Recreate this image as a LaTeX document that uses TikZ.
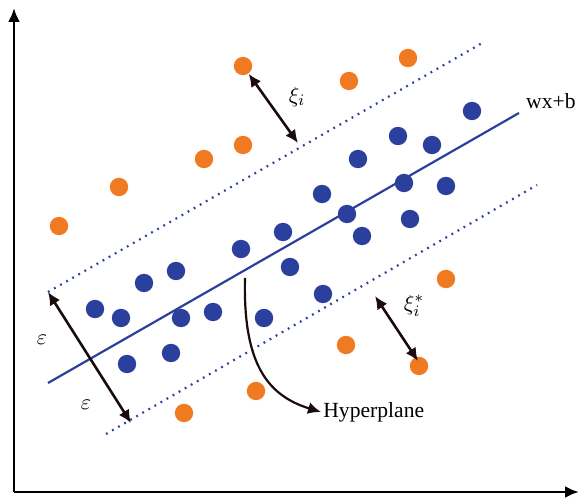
\documentclass[tikz,border=0pt]{standalone}
\usepackage{amsmath,amssymb}
\usepackage{fontspec}
\setmainfont{Liberation Serif}
\usepackage{tikz}
\usepackage{xcolor}
\usetikzlibrary{arrows.meta,positioning}
\definecolor{svblue}{HTML}{2B3F9C}
\definecolor{svorange}{HTML}{F07A22}
\definecolor{ink}{HTML}{1A0C0C}
\tikzset{
  bluedot/.style={circle,fill=svblue,draw=none,inner sep=0pt,minimum size=9.2pt},
  orangedot/.style={circle,fill=svorange,draw=none,inner sep=0pt,minimum size=9.2pt},
  axisarr/.style={-{Latex[length=7pt,width=6pt]},line width=1.4pt,color=black},
  dblarr/.style={{Latex[length=6.5pt,width=6pt]}-{Latex[length=6.5pt,width=6pt]},line width=1.3pt,color=ink},
  curvarr/.style={-{Latex[length=6.5pt,width=6pt]},line width=1.1pt,color=ink},
  margin/.style={svblue,line width=1.1pt,dash pattern=on 0.9pt off 2.6pt},
  hyperline/.style={svblue,line width=1.1pt},
  lbl/.style={font=\fontsize{10.8}{13}\selectfont,inner sep=1pt}
}
\begin{document}
\begin{tikzpicture}[x=0.5pt,y=-0.5pt]
  \useasboundingbox (0,0) rectangle (579,502);

  % axes
  \coordinate (origin) at (14,492);
  \coordinate (ytop) at (14,8);
  \coordinate (xend) at (579,492);
  \draw[axisarr] (origin) -- (ytop);
  \draw[axisarr] (origin) -- (xend);

  % hyperplane and margins
  \coordinate (hA) at (48,383);
  \coordinate (hB) at (519,113);
  \coordinate (uA) at (48,292);
  \coordinate (uB) at (484,42);
  \coordinate (lA) at (106,434);
  \coordinate (lB) at (537,185);
  \draw[hyperline] (hA) -- (hB);
  \draw[margin] (uA) -- (uB);
  \draw[margin] (lA) -- (lB);
  \node[lbl,anchor=east] (wxb) at (578,101) {wx+b};

  % data points
  \foreach \px/\py [count=\i] in {472/111,398/136,432/145,358/159,404/183,446/186,
      322/194,347/214,410/219,362/236,283/232,241/249,290/267,176/271,144/283,
      323/294,95/309,121/318,181/318,213/312,264/318,127/364,171/353}
    \node[bluedot] (b\i) at (\px,\py) {};
  \foreach \px/\py [count=\i] in {243/66,408/58,349/81,243/145,204/159,119/187,
      59/226,446/279,346/345,419/366,256/391,184/413}
    \node[orangedot] (o\i) at (\px,\py) {};

  % slack variables
  \coordinate (xiend) at (298,143);
  \draw[dblarr] (o1) -- (xiend);
  \node[lbl] (xi) at (297,97) {$\xi_i$};
  \coordinate (xisstart) at (375,296);
  \coordinate (xisend) at (418,361);
  \draw[dblarr] (xisstart) -- (xisend);
  \node[lbl] (xis) at (414,306) {$\xi_i^*$};

  % margin width
  \draw[dblarr] (uA) -- (131,423);
  \node[lbl] (eps1) at (42,340) {$\varepsilon$};
  \node[lbl] (eps2) at (86,405) {$\varepsilon$};

  % hyperplane label
  \coordinate (hs) at (245,278);
  \node[lbl,anchor=west] (hyp) at (321,412) {Hyperplane};
  \draw[curvarr] (hs) .. controls (243,360) and (265,395) .. (hyp.west);
\end{tikzpicture}
\end{document}
